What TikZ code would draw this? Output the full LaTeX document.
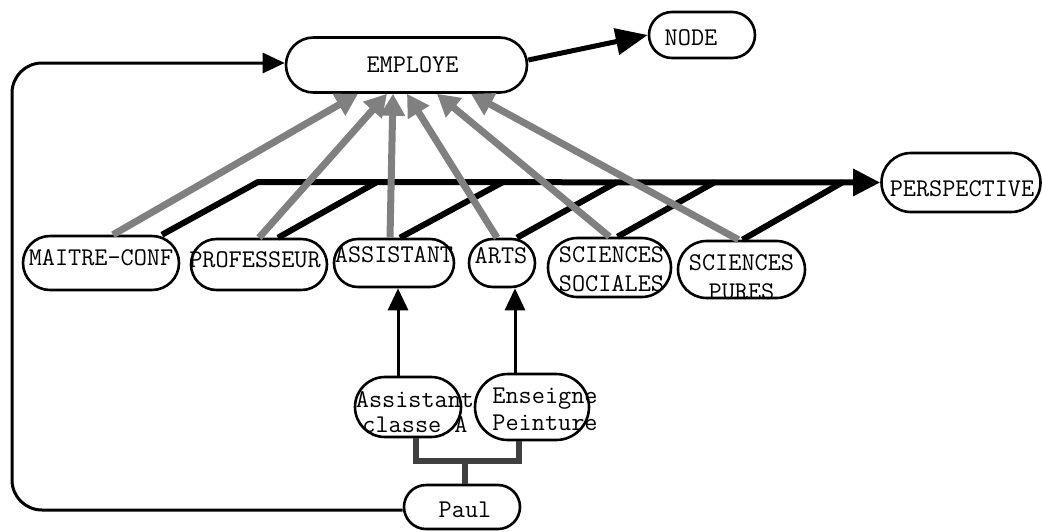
\documentclass[tikz,border=0pt]{standalone}
\usepackage{fontspec}
\usepackage{tikz}
\usetikzlibrary{arrows.meta,positioning,shapes.misc}
% text that may run past its box: #1 x offset, #2 lift of last baseline
\newcommand{\lbl}[3]{\raisebox{#2}[0pt][0pt]{\makebox[0pt]{\hspace*{#1}\hspace*{#1}#3}}}
\newcommand{\two}[3][0pt]{\begin{tabular}[b]{@{}c@{}}#2\\[#1]#3\end{tabular}}

\begin{document}
\begin{tikzpicture}[
  x=1pt,y=-1pt,
  font=\ttfamily\fontsize{25.5}{28}\selectfont,
  cls/.style={draw,line width=2.6pt,rounded rectangle,inner sep=0pt},
  isa/.style={-{Triangle[length=22pt,width=24pt]},draw=black!50,line width=7pt},
  bus/.style={draw=black,line width=6pt},
  ar/.style={-{Triangle[length=32pt,width=26pt]},line width=5pt},
  inst/.style={-{Triangle[length=22pt,width=20pt]},line width=3pt},
  back/.style={-{Triangle[length=22pt,width=20pt]},line width=3pt,rounded corners=30pt},
  fork/.style={draw=black!75,line width=5.5pt}
]
\useasboundingbox (0,0) rectangle (1042,531);

% ---- classes
\node[cls,minimum width=241pt,minimum height=55pt] (emp) at (406.5,65) {\lbl{6pt}{-7pt}{EMPLOYE}};
\node[cls,minimum width=106pt,minimum height=46pt] (nd) at (702,35) {\lbl{-11pt}{-10pt}{NODE}};
\node[cls,minimum width=159pt,minimum height=59pt] (persp) at (961,182.5) {\lbl{1pt}{-14pt}{PERSPECTIVE}};

% ---- sub-classes
\node[cls,minimum width=156pt,minimum height=54pt] (mc) at (101,263) {\lbl{0pt}{-2pt}{MAITRE-CONF}};
\node[cls,minimum width=136pt,minimum height=51pt] (prof) at (259,264.5) {\lbl{-4pt}{-2.5pt}{PROFESSEUR}};
\node[cls,minimum width=120pt,minimum height=48pt] (assist) at (394,263) {\lbl{0pt}{1pt}{ASSISTANT}};
\node[cls,minimum width=66pt,minimum height=48pt] (arts) at (502,263) {\lbl{-1pt}{0pt}{ARTS}};
\node[cls,minimum width=123pt,minimum height=59pt] (socs) at (609.5,267.5) {\lbl{2pt}{-23.5pt}{\two[1pt]{SCIENCES}{SOCIALES}}};
\node[cls,minimum width=127pt,minimum height=57pt] (pures) at (741.5,269.5) {\lbl{0pt}{-29.5pt}{\two[1pt]{SCIENCES}{PURES}}};

% ---- instances
\node[cls,minimum width=106pt,minimum height=60pt] (ac) at (408,407) {\lbl{7pt}{-25pt}{\two[-3pt]{Assistant}{classe A}}};
\node[cls,minimum width=114pt,minimum height=66pt] (ep) at (532,407) {\lbl{13pt}{-23pt}{\two[-1pt]{Enseigne}{Peinture}}};
\node[cls,minimum width=116pt,minimum height=44pt] (paul) at (462,507) {\lbl{3pt}{-10pt}{Paul}};

% ---- perspective bus
\coordinate (j1) at (258,182);
\coordinate (j2) at (377,182);
\coordinate (j3) at (503,182);
\coordinate (j4) at (617,182);
\coordinate (j5) at (715,182);
\coordinate (j6) at (843,182);
\draw[bus,-{Triangle[length=27pt,width=26pt]}] ([xshift=61pt]mc.north) -- (j1) -- (persp.west);
\draw[bus] ([xshift=19pt]prof.north) -- (j2); \draw[bus] ([xshift=6pt]assist.north) -- (j3);
\draw[bus] ([xshift=15pt]arts.north) -- (j4); \draw[bus] ([xshift=8pt]socs.north) -- (j5);
\draw[bus] ([xshift=1pt]pures.north) -- (j6);

% ---- is-a links
\draw[isa] ([xshift=12pt]mc.north) -- ([xshift=-48.5pt]emp.south);
\draw[isa] (prof.north) -- ([xshift=-19.5pt]emp.south);
\draw[isa] ([xshift=-4pt]assist.north) -- ([xshift=-13.5pt]emp.south);
\draw[isa] ([xshift=-5pt]arts.north) -- ([xshift=0.5pt]emp.south);
\draw[isa] (socs.north) -- ([xshift=30.5pt]emp.south);
\draw[isa] ([xshift=-3pt]pures.north) -- ([xshift=64.5pt]emp.south);

\draw[ar] ([yshift=5pt]emp.east) -- (nd.west);

% ---- instance links
\draw[inst] ([xshift=-10pt]ac.north) -- ([xshift=4pt]assist.south);
\draw[inst] ([xshift=-17pt]ep.north) -- ([xshift=13pt]arts.south);
\coordinate (fk) at (465,461);
\draw[fork] ([xshift=8pt]ac.south) |- (fk) -| ([xshift=-13pt]ep.south);
\draw[fork] ([xshift=3pt]paul.north) -- (fk);
\coordinate (lft) at (12,300);
\draw[back] ([yshift=-3pt]paul.west) -| (lft) |- ([yshift=2pt]emp.west);
\end{tikzpicture}
\end{document}
